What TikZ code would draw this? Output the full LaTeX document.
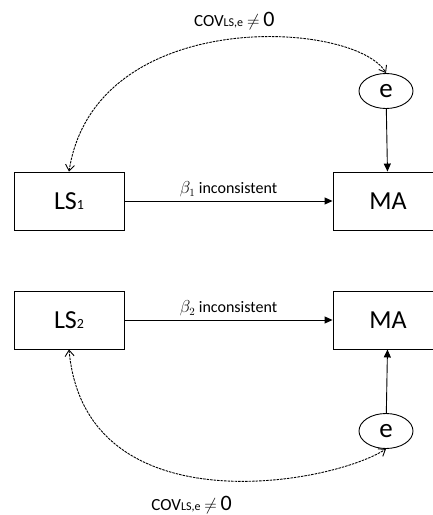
\documentclass[tikz,border=0pt]{standalone}
\usepackage{fontspec}
\setmainfont{Carlito}
\usetikzlibrary{shapes,arrows.meta}
\newcommand{\obsbox}[4]{\node[draw,rectangle,line width=0.9pt,minimum width=110pt,minimum height=58pt,font=\fontsize{26}{26}\selectfont] (#1) at (#2,#3) {#4};}
\newcommand{\errterm}[3]{\node[draw,ellipse,line width=0.9pt,minimum width=54pt,minimum height=35pt,inner sep=0pt,font=\fontsize{27}{27}\selectfont] (#1) at (#2,#3) {e};}
\newcommand{\regpath}[3]{\draw[line width=0.9pt,-{Triangle[length=8pt,width=7pt]}] (#1) -- node[midway,above,font=\fontsize{16}{16}\selectfont] {#3} (#2);}
\newcommand{\covtext}{COV{\fontsize{12}{12}\selectfont LS,e} $\neq$ {\fontsize{22}{22}\selectfont 0}}
\newcommand{\digsub}[1]{{\fontsize{14}{14}\selectfont #1}}

\begin{document}
\begin{tikzpicture}[x=1pt,y=-1pt]
    \useasboundingbox (0,0) rectangle (432,515);
    % upper model
    \obsbox{LS1}{69}{201}{LS\digsub{1}}    \obsbox{MA1}{388}{201}{MA}
    \errterm{e1}{386}{91}
    \regpath{LS1}{MA1}{$\beta_1$ inconsistent}
    \draw[line width=0.9pt,-{Triangle[length=8pt,width=7pt]}] (e1) -- (MA1);
    \draw[line width=0.9pt,dash pattern=on 2.5pt off 1pt,{Straight Barb[length=6pt,width=9pt]}-{Straight Barb[length=6pt,width=9pt]}]
        (LS1.north) .. controls (95,5) and (355,20) .. node[pos=0.52,above=5pt,font=\fontsize{17}{17}\selectfont] {\covtext} (e1.north);
    % lower model
    \obsbox{LS2}{69}{320}{LS\digsub{2}}    \obsbox{MA2}{388}{320}{MA}
    \errterm{e2}{386}{431}
    \regpath{LS2}{MA2}{$\beta_2$ inconsistent}
    \draw[line width=0.9pt,-{Triangle[length=8pt,width=7pt]}] (e2) -- (MA2);
    \draw[line width=0.9pt,dash pattern=on 2.5pt off 1pt,{Straight Barb[length=6pt,width=9pt]}-{Straight Barb[length=6pt,width=9pt]}]
        (LS2.south) .. controls (85,528) and (330,485) .. node[pos=0.45,below=16pt,font=\fontsize{17}{17}\selectfont] {\covtext} (e2.south);
\end{tikzpicture}
\end{document}
